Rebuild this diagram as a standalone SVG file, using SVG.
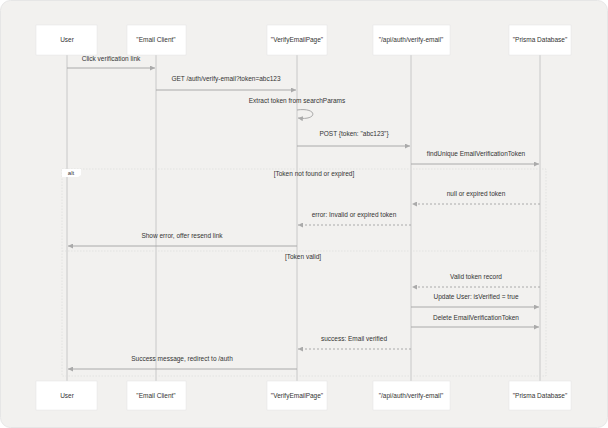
<svg xmlns="http://www.w3.org/2000/svg" width="608" height="428" viewBox="0 0 608 428">
<style>
text{font-family:"Liberation Sans",Arial,sans-serif;font-size:6.5px;fill:#333;text-anchor:middle}
.box{fill:#fff;stroke:#e4e4e4;stroke-width:0.5}
.life{stroke:#c8c8c8;stroke-width:1}
.msg{stroke:#aaa;stroke-width:1;fill:none}
.dash{stroke-dasharray:2,2}
</style>
<defs><marker id="a" viewBox="0 0 6 6" refX="6" refY="3" markerWidth="5" markerHeight="5" orient="auto"><path d="M0,0L6,3L0,6z" fill="#aaa"/></marker></defs>
<rect x="0.5" y="0.5" width="607" height="427" rx="10" fill="#f2f1ef" stroke="#e6e6e6"/>
<g id="lifelines">
<line class="life" x1="67" y1="55" x2="67" y2="381"/><line class="life" x1="156" y1="55" x2="156" y2="381"/><line class="life" x1="297" y1="55" x2="297" y2="381"/><line class="life" x1="411" y1="55" x2="411" y2="381"/><line class="life" x1="540" y1="55" x2="540" y2="381"/>
</g>
<g id="alt">
<rect x="62" y="169" width="484" height="207" fill="none" stroke="#ddd" stroke-width="0.7" stroke-dasharray="1.5,1.5"/>
<path d="M62,169H81V175L78,177H62Z" fill="#fff"/>
<text x="71" y="175" style="font-size:6px">alt</text>
<line x1="62" y1="251" x2="546" y2="251" stroke="#ddd" stroke-width="0.7" stroke-dasharray="1.5,1.5"/>
<text x="314" y="176">[Token not found or expired]</text>
<text x="303" y="259">[Token valid]</text>
</g>
<g id="n-user"><rect class="box" x="36" y="25" width="61" height="30"/><rect class="box" x="36" y="381" width="61" height="29"/><text x="67" y="42">User</text><text x="67" y="398">User</text></g>
<g id="n-email"><rect class="box" x="127" y="25" width="59" height="30"/><rect class="box" x="127" y="381" width="59" height="29"/><text x="156" y="42">"Email Client"</text><text x="156" y="398">"Email Client"</text></g>
<g id="n-page"><rect class="box" x="267" y="25" width="60" height="30"/><rect class="box" x="267" y="381" width="60" height="29"/><text x="297" y="42">"VerifyEmailPage"</text><text x="297" y="398">"VerifyEmailPage"</text></g>
<g id="n-api"><rect class="box" x="373" y="25" width="77" height="30"/><rect class="box" x="373" y="381" width="77" height="29"/><text x="411" y="42">"/api/auth/verify-email"</text><text x="411" y="398">"/api/auth/verify-email"</text></g>
<g id="n-db"><rect class="box" x="509" y="25" width="62" height="30"/><rect class="box" x="509" y="381" width="62" height="29"/><text x="540" y="42">"Prisma Database"</text><text x="540" y="398">"Prisma Database"</text></g>
<g id="connectors">
<text x="111" y="61">Click verification link</text><line class="msg" x1="67" y1="68" x2="155" y2="68" marker-end="url(#a)"/>
<text x="226" y="81">GET /auth/verify-email?token=abc123</text><line class="msg" x1="156" y1="90" x2="296" y2="90" marker-end="url(#a)"/>
<text x="297" y="103">Extract token from searchParams</text><path class="msg" d="M297,110C318,107 318,121 298,118" marker-end="url(#a)"/>
<text x="354" y="136">POST {token: "abc123"}</text><line class="msg" x1="297" y1="146" x2="410" y2="146" marker-end="url(#a)"/>
<text x="476" y="156">findUnique EmailVerificationToken</text><line class="msg" x1="411" y1="164" x2="539" y2="164" marker-end="url(#a)"/>
<text x="476" y="196">null or expired token</text><line class="msg dash" x1="540" y1="204" x2="412" y2="204" marker-end="url(#a)"/>
<text x="354" y="217">error: Invalid or expired token</text><line class="msg dash" x1="411" y1="225" x2="298" y2="225" marker-end="url(#a)"/>
<text x="182" y="238">Show error, offer resend link</text><line class="msg" x1="297" y1="246" x2="68" y2="246" marker-end="url(#a)"/>
<text x="476" y="279">Valid token record</text><line class="msg dash" x1="540" y1="287" x2="412" y2="287" marker-end="url(#a)"/>
<text x="476" y="299">Update User: isVerified = true</text><line class="msg" x1="411" y1="307" x2="539" y2="307" marker-end="url(#a)"/>
<text x="476" y="320">Delete EmailVerificationToken</text><line class="msg" x1="411" y1="327" x2="539" y2="327" marker-end="url(#a)"/>
<text x="354" y="341">success: Email verified</text><line class="msg dash" x1="411" y1="349" x2="298" y2="349" marker-end="url(#a)"/>
<text x="182" y="361">Success message, redirect to /auth</text><line class="msg" x1="297" y1="369" x2="68" y2="369" marker-end="url(#a)"/>
</g>
</svg>
